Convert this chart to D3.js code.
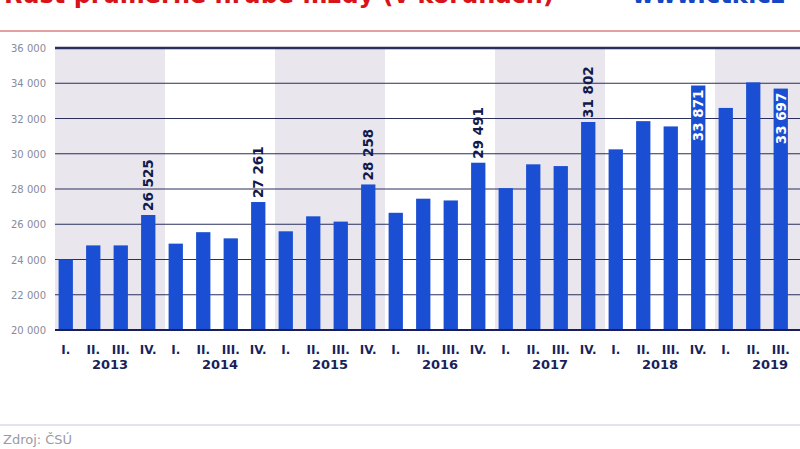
<!DOCTYPE html><html><head><meta charset="utf-8"><script src="https://cdn.jsdelivr.net/npm/d3@7"></script>
<style>body{margin:0;background:#fff;font-family:"DejaVu Sans",sans-serif}</style></head><body><svg width="800" height="449"></svg><script>
const years=["2013","2014","2015","2016","2017","2018","2019"];
const quarters=["I.","II.","III.","IV."];
const values=[24000,24800,24800,26525,24900,25550,25200,27261,25600,26450,26150,28258,26650,27450,27350,29491,28050,29400,29300,31802,30250,31850,31550,33871,32600,34050,33697];
const labeled={3:"26 525",7:"27 261",11:"28 258",15:"29 491",19:"31 802",23:"33 871",26:"33 697"};
const inside=[23,26];
const yTicks=d3.range(20000,36001,2000);
const svg=d3.select("svg");
const x0=55,yearW=110;
const xs=d3.scaleBand().domain(d3.range(28)).range([x0-3,x0-3+yearW*7]).paddingInner(0.48).paddingOuter(0.24);
const y=d3.scaleLinear().domain([20000,36000]).range([330,48]);
svg.append("text").attr("x",4).attr("y",3).attr("fill","#d7141a").attr("font-size",24).attr("font-weight","bold").text("Růst průměrné hrubé mzdy (v korunách)");
svg.append("text").attr("x",785).attr("y",3).attr("text-anchor","end").attr("fill","#1746c4").attr("font-size",24).attr("font-weight","bold").text("www.ctk.cz");
svg.append("line").attr("x1",0).attr("x2",800).attr("y1",31).attr("y2",31).attr("stroke","#d98080").attr("stroke-width",1.5);
years.forEach((yr,i)=>{ if(i%2==0) svg.append("rect").attr("x",x0+i*yearW).attr("y",48).attr("width",yearW).attr("height",282).attr("fill","#e9e6ee");});
yTicks.forEach(t=>{svg.append("line").attr("x1",x0).attr("x2",800).attr("y1",y(t)).attr("y2",y(t)).attr("stroke",t==20000?"#1a1f5a":"#2a2f5e").attr("stroke-width",t==36000?2.5:1);
svg.append("text").attr("x",46).attr("y",y(t)+4).attr("text-anchor","end").attr("font-size",10).attr("fill","#8a8a99").text(d3.format(",")(t).replace(","," "));});
svg.selectAll("rect.b").data(values).join("rect").attr("x",(d,i)=>xs(i)).attr("width",xs.bandwidth()).attr("y",d=>y(d)).attr("height",d=>330-y(d)).attr("fill","#1a4fd4");
svg.append("line").attr("x1",x0).attr("x2",800).attr("y1",330).attr("y2",330).attr("stroke","#1a1f5a").attr("stroke-width",2);
Object.entries(labeled).forEach(([k,t])=>{k=+k;const cx=xs(k)+xs.bandwidth()/2;const inn=inside.includes(k);const yy=inn?y(values[k])+4:y(values[k])-4;
svg.append("text").attr("transform",`translate(${cx+5},${yy}) rotate(-90)`).attr("text-anchor",inn?"end":"start").attr("font-size",13.5).attr("font-weight","bold").attr("fill",inn?"#fff":"#111a4a").text(t);});
values.forEach((v,i)=>svg.append("text").attr("x",xs(i)+xs.bandwidth()/2).attr("y",354).attr("text-anchor","middle").attr("font-size",12).attr("font-weight","bold").attr("fill","#1a1f5a").text(quarters[i%4]));
years.forEach((yr,i)=>svg.append("text").attr("x",x0+i*yearW+yearW/2).attr("y",369).attr("text-anchor","middle").attr("font-size",13).attr("font-weight","bold").attr("fill","#1a1f5a").text(yr));
svg.append("line").attr("x1",0).attr("x2",800).attr("y1",425).attr("y2",425).attr("stroke","#c8c8d8").attr("stroke-width",1);
svg.append("text").attr("x",3).attr("y",444).attr("font-size",13).attr("fill","#9a9aa6").text("Zdroj: ČSÚ");
</script></body></html>
